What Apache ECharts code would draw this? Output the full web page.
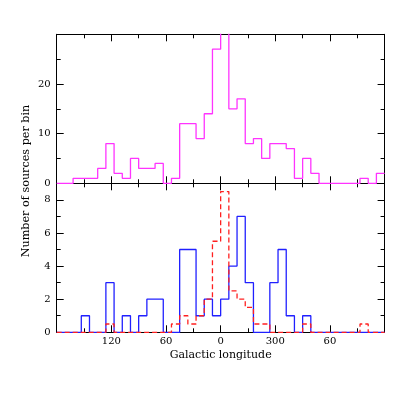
<!DOCTYPE html>
<html>
<head>
<meta charset="utf-8">
<script src="https://cdn.jsdelivr.net/npm/echarts@6/dist/echarts.min.js"></script>
<style>html,body{margin:0;padding:0;background:#fff}#c{width:407px;height:407px}</style>
</head>
<body>
<div id="c"></div>
<script>
// 40 bins of 9 degrees, plotted on a linear coordinate u = 0..360 (l = 180 at left, l = 0 at centre)
var binWidth = 9;
var topCounts = [0,0,1,1,1,3,8,2,1,5,3,3,4,0,1,12,12,9,14,27,32,15,17,8,9,5,8,8,7,1,5,2,0,0,0,0,0,1,0,2];
var blueCounts = [0,0,0,1,0,0,3,0,1,0,1,2,2,0,0,5,5,1,2,1,2,4,7,3,0,0,3,5,1,0,1,0,0,0,0,0,0,0,0,0];
var redCounts = [0,0,0,0,0,0,0.5,0,0,0,0,0,0,0,0.5,1,0.5,1,2,5.5,8.5,2.5,2,1.5,0.5,0.5,0,0,0,0,0.5,0,0,0,0,0,0,0.5,0,0];
var xTickValues = [60,120,180,240,300];
var xTickLabels = ['120','60','0','300','60'];
var yLabelTop = 'Number of sources per bin';
var xName = 'Galactic longitude';

function stepData(counts){
  var d = counts.map(function(v,i){return [i*binWidth, v];});
  d.push([counts.length*binWidth, counts[counts.length-1]]);
  return d;
}
var FONT = 'DejaVu Serif';
var L = 56.7, R = 407-384.6, T0 = 34.3, H = 149;
var tickMajor = {show:true, inside:true, length:7, lineStyle:{color:'#000', width:1}};
var tickMinor = {show:true, length:4, lineStyle:{color:'#000', width:1}};
var axLine = {show:true, onZero:false, lineStyle:{color:'#000', width:1}};
function xAx(grid, pos, labels){
  return {type:'value', gridIndex:grid, position:pos, min:0, max:360, interval:60,
    axisLine:axLine, axisTick:tickMajor, minorTick:Object.assign({splitNumber:2}, tickMinor),
    splitLine:{show:false}, minorSplitLine:{show:false},
    axisLabel:{show:labels, margin:4, color:'#000', fontFamily:FONT, fontSize:10,
      formatter:function(v){var k=xTickValues.indexOf(v);return k<0?'':xTickLabels[k];}}};
}
function yAx(grid, pos, max, interval, minorSplit, labels, tickLen){
  return {type:'value', gridIndex:grid, position:pos, min:0, max:max, interval:interval,
    axisLine:axLine, axisTick:{show:true, inside:true, length:tickLen, lineStyle:{color:'#000',width:1}},
    minorTick: minorSplit ? Object.assign({splitNumber:minorSplit}, tickMinor) : {show:false},
    splitLine:{show:false}, minorSplitLine:{show:false},
    axisLabel:{show:labels, margin:6, color:'#000', fontFamily:FONT, fontSize:10, showMaxLabel:false}};
}
var xAxes = [xAx(0,'bottom',false), xAx(0,'top',false), xAx(1,'bottom',true), xAx(1,'top',false)];
xAxes[2].name = xName; xAxes[2].nameLocation='middle'; xAxes[2].nameGap=17;
xAxes[2].nameTextStyle = {color:'#000', fontFamily:FONT, fontSize:11};
var yAxes = [
  yAx(0,'left',30,10,2,true,7), yAx(0,'right',30,10,2,false,7),
  yAx(1,'left',9,2,0,true,7), yAx(1,'left',9,1,0,false,4),
  yAx(1,'right',9,2,0,false,7), yAx(1,'right',9,1,0,false,4)
];
var chart = echarts.init(document.getElementById('c'), null, {renderer:'canvas'});
chart.setOption({
  animation:false,
  backgroundColor:'#fff',
  grid:[{left:L, right:R, top:T0, height:H}, {left:L, right:R, top:T0+H, height:H}],
  xAxis:xAxes, yAxis:yAxes,
  graphic:[{type:'text', x:26, y:181, rotation:Math.PI/2,
    style:{text:yLabelTop, fill:'#000', font:'11.2px "DejaVu Serif"', align:'center', verticalAlign:'middle'}}],
  series:[
    {type:'line', xAxisIndex:0, yAxisIndex:0, step:'end', data:stepData(topCounts), symbol:'none',
      lineStyle:{color:'#ff33ff', width:1.3}, clip:true},
    {type:'line', xAxisIndex:2, yAxisIndex:2, step:'end', data:stepData(blueCounts), symbol:'none',
      lineStyle:{color:'#2020ff', width:1.3}, clip:true},
    {type:'line', xAxisIndex:2, yAxisIndex:2, step:'end', data:stepData(redCounts), symbol:'none',
      lineStyle:{color:'#ff2020', width:1.3, type:[5,3]}, clip:true}
  ]
});
</script>
</body>
</html>
